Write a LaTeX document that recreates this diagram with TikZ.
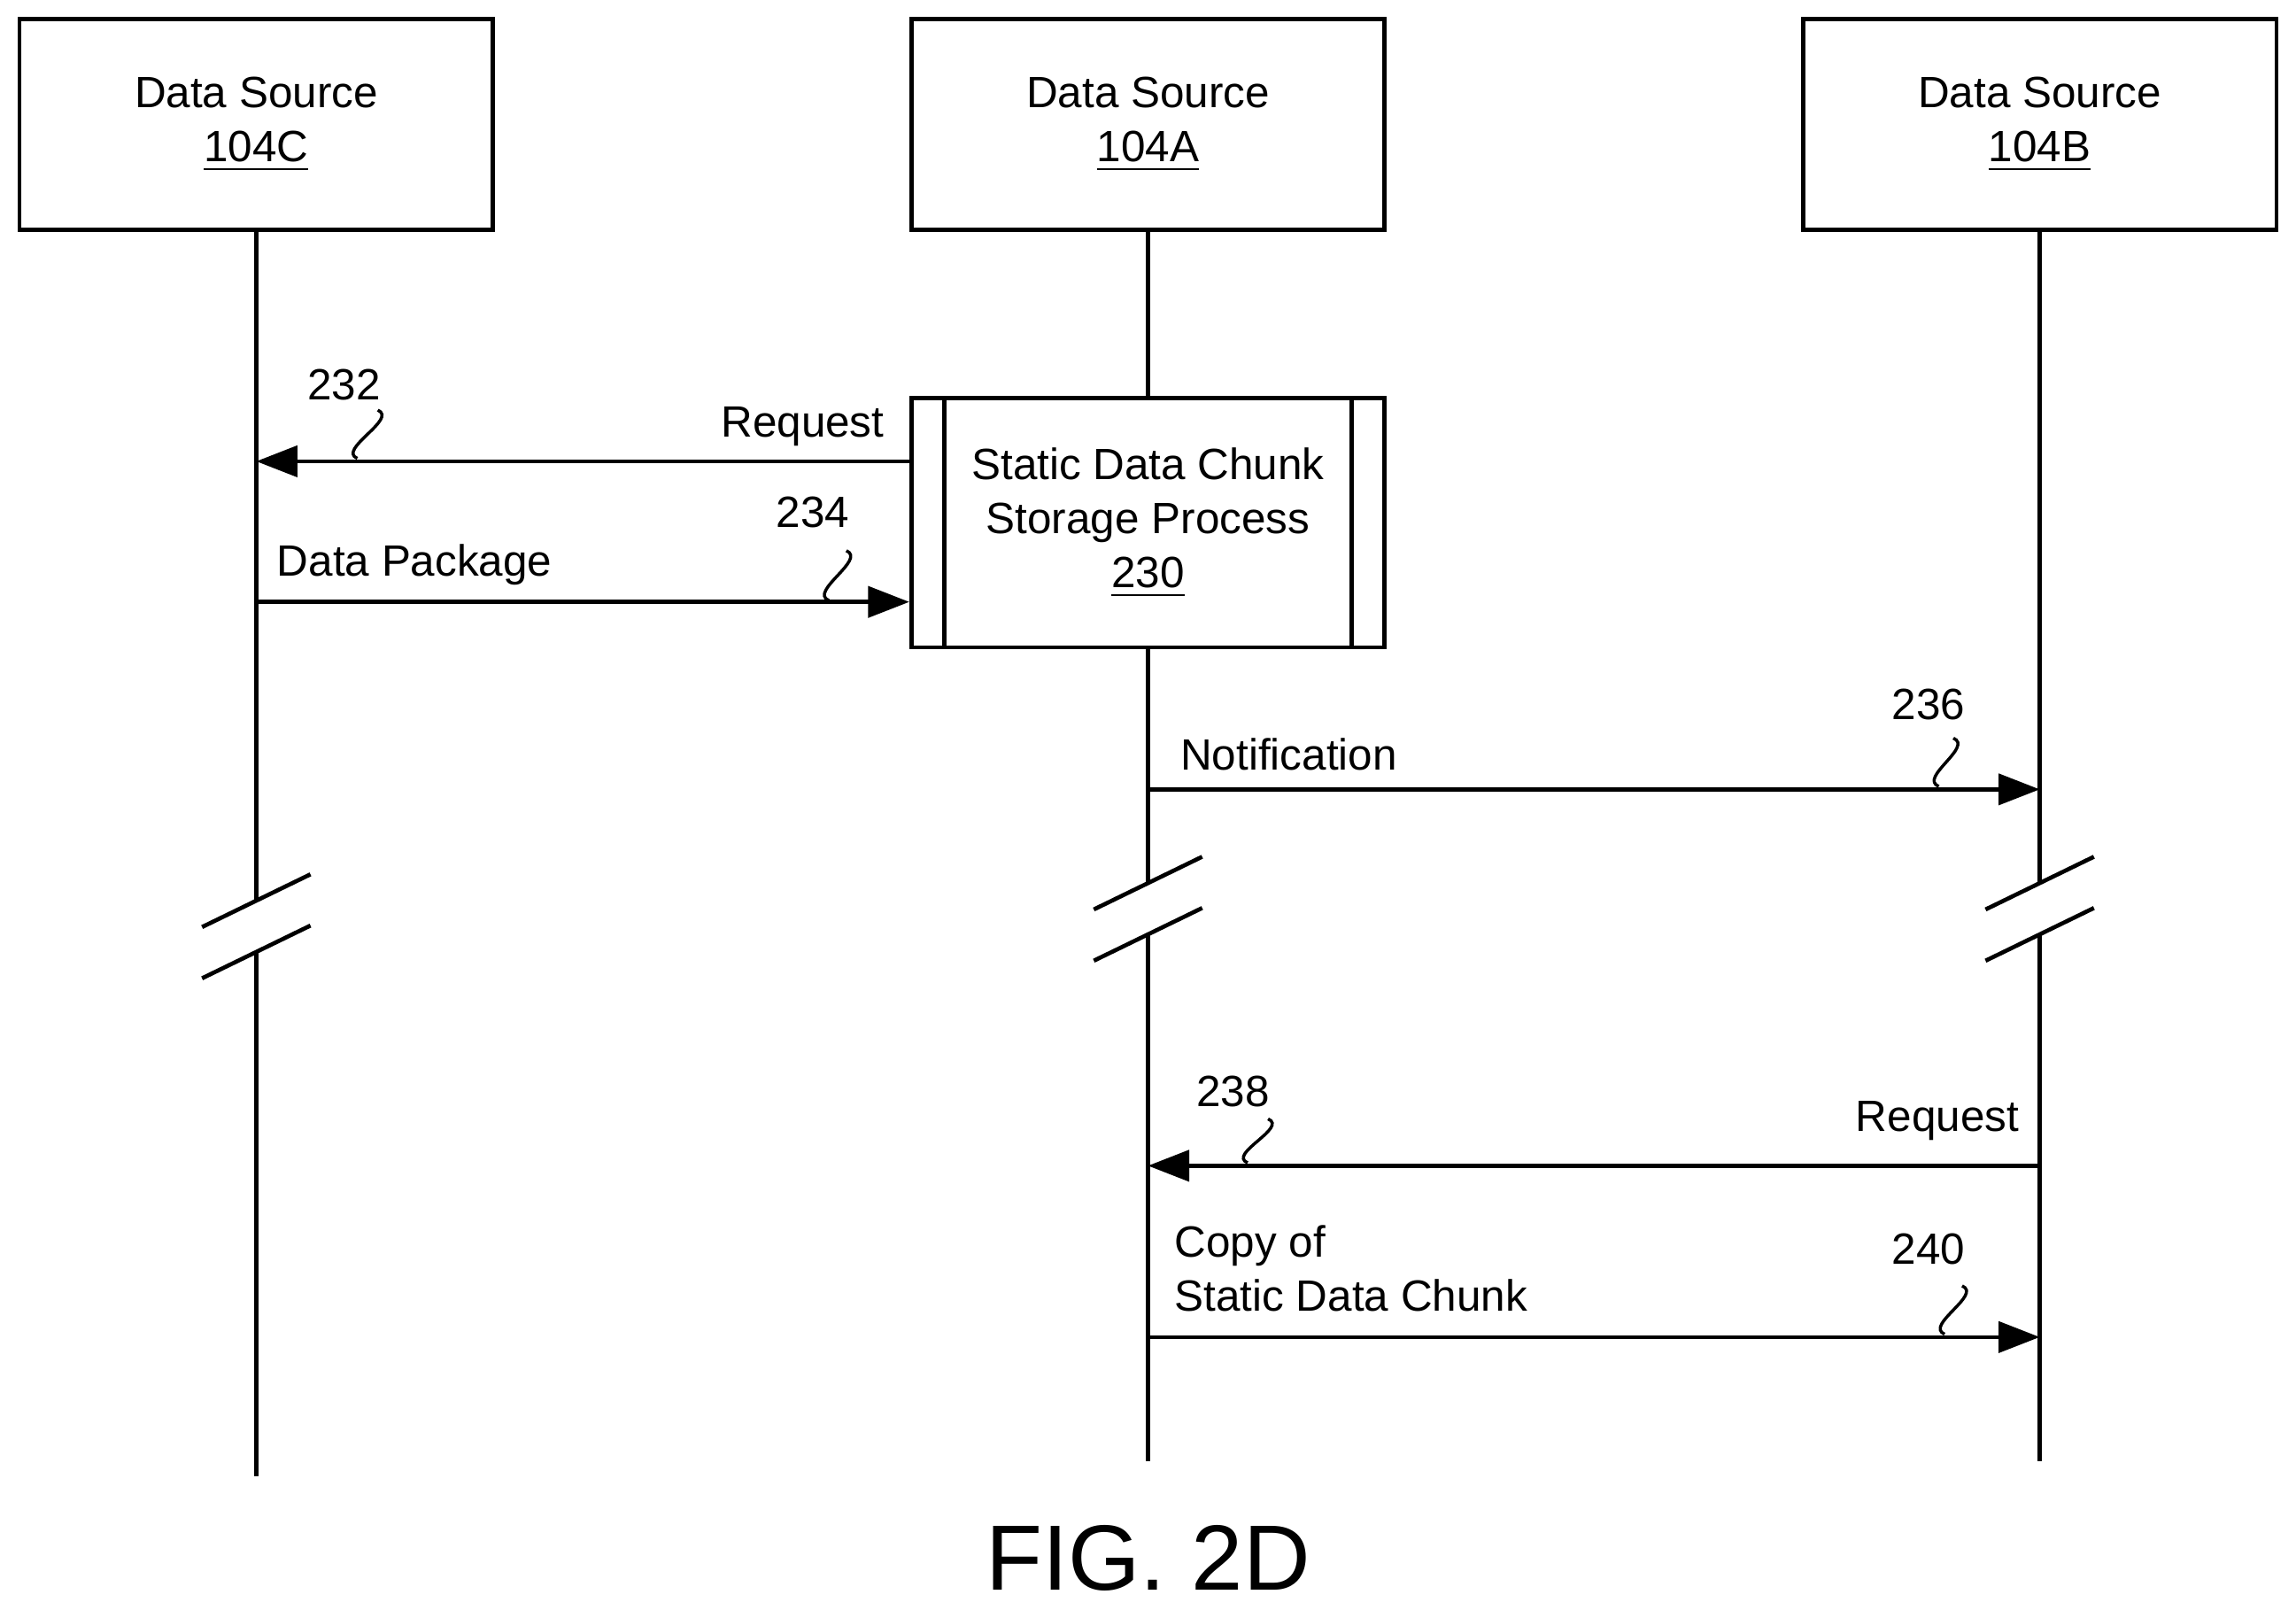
\documentclass[tikz,border=0pt]{standalone}
\usepackage{fontspec}
\setmainfont{Liberation Sans}
\usetikzlibrary{arrows.meta, positioning, calc}
\newcommand{\squig}[2]{\draw[semithick] #1 .. controls +(14,6) and +(-14,-6) .. #2;}
\begin{document}
\begin{tikzpicture}[x=0.01cm, y=-0.01cm,
    % Node styles
    source/.style={
        rectangle,
        draw,
        thick,
        minimum width=3.23cm,
        minimum height=1.44cm,
        align=center,
        font=\fontsize{8.5}{10.5}\selectfont
    },
    msg/.style={
        -{Triangle[length=8pt, width=6pt]},
        thick
    },
    life/.style={thick},
    lbl/.style={font=\fontsize{8.5}{10.5}\selectfont, inner sep=1pt},
    refnum/.style={font=\fontsize{8.5}{10}\selectfont, inner sep=1pt}
]
\useasboundingbox (0,0) rectangle (1568,1099);

% Position nodes
\node[source] (srcC) at (175,85) {Data Source\\\underline{104C}};
\node[source] (srcA) at (784,85) {Data Source\\\underline{104A}};
\node[source] (srcB) at (1393,85) {Data Source\\\underline{104B}};

\node[source, minimum height=1.70cm] (proc) at (784,357) {Static Data Chunk\\Storage Process\\\underline{230}};
\draw[thick] (645,272) -- (645,442) (923,272) -- (923,442);

% lifelines
\coordinate (endC) at (175,1008);
\coordinate (endA) at (784,998);
\coordinate (endB) at (1393,998);
\draw[life] (srcC.south) -- (175,615) (175,650) -- (endC);
\draw[life] (srcA.south) -- (proc.north);
\draw[life] (proc.south) -- (784,603) (784,638) -- (endA);
\draw[life] (srcB.south) -- (1393,603) (1393,638) -- (endB);

% break marks
\foreach \x/\y in {175/632, 784/620, 1393/620} {
    \draw[thick] (\x-37,\y+1) -- (\x+37,\y-35);
    \draw[thick] (\x-37,\y+36) -- (\x+37,\y);
}

% messages
\coordinate (reqC) at (175,315);
\coordinate (datC) at (175,411);
\coordinate (notA) at (784,539);
\coordinate (notB) at (1393,539);
\coordinate (reqB) at (1393,796);
\coordinate (reqA) at (784,796);
\coordinate (cpyA) at (784,913);
\coordinate (cpyB) at (1393,913);

\draw[msg] (proc.west |- reqC) -- (reqC);
\node[lbl, anchor=south east] at (608,309) {Request};
\draw[msg] (datC) -- (proc.west |- datC);
\node[lbl, anchor=south west] at (185,404) {Data Package};
\draw[msg] (notA) -- (notB);
\node[lbl, anchor=south west] at (802,530) {Notification};
\draw[msg] (reqB) -- (reqA);
\node[lbl, anchor=south east] at (1383,783) {Request};
\draw[msg] (cpyA) -- (cpyB);
\node[lbl, anchor=south west, align=left] at (798,900) {Copy of\\Static Data Chunk};

% reference numbers
\node[refnum] (n232) at (235,263) {232};
\squig{(258,280)}{(244,313)}
\node[refnum] (n234) at (555,350) {234};
\squig{(578,376)}{(566,410)}
\node[refnum] (n236) at (1317,481) {236};
\squig{(1334,504)}{(1324,537)}
\node[refnum] (n238) at (842,745) {238};
\squig{(866,764)}{(852,794)}
\node[refnum] (n240) at (1317,853) {240};
\squig{(1340,878)}{(1328,911)}

\node[font=\fontsize{18}{22}\selectfont] (fig) at (784,1064) {FIG. 2D};
\end{tikzpicture}
\end{document}
